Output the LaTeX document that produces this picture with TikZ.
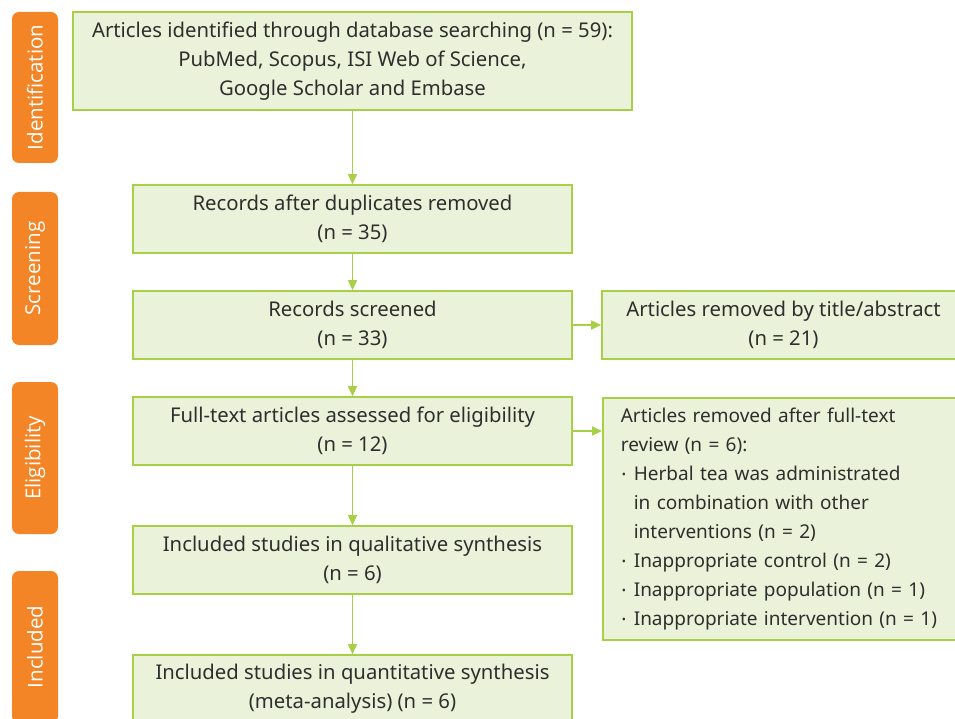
\documentclass[tikz,border=0pt]{standalone}
\usepackage{fontspec}
\setmainfont{Noto Sans}
\newfontfamily\barfont{Open Sans}
\usetikzlibrary{arrows.meta}
\definecolor{boxfill}{HTML}{EAF3D9}
\definecolor{boxline}{HTML}{A8D046}
\definecolor{barorange}{HTML}{F38526}
\definecolor{txt}{HTML}{2E2E2E}
\newcommand{\bul}{\makebox[13pt][l]{\hspace*{1pt}\raisebox{1.8pt}{\fontsize{11}{11}\selectfont\textbullet}}}
\begin{document}
\begin{tikzpicture}[x=1pt,y=-1pt,
  box/.style={draw=boxline, fill=boxfill, line width=1.6pt, text=txt, align=center,
    font=\fontsize{20.3}{29}\selectfont, inner sep=0pt},
  bar/.style={fill=barorange, rounded corners=7pt, minimum height=46pt, inner sep=0pt,
    text=white, font=\barfont\fontsize{20.5}{22}\selectfont, rotate=90},
  arr/.style={draw=boxline, line width=1.6pt, -{Triangle[width=9pt,length=10pt]}}]
\useasboundingbox (0,0) rectangle (955,719);
\clip (0,0) rectangle (955,719);
% phase bars
\node[bar, minimum width=151pt] (b1) at (35,87.5) {Identification};
\node[bar, minimum width=153pt] (b2) at (35,268.5) {Screening};
\node[bar, minimum width=152pt] (b3) at (35,458) {Eligibility};
\node[bar, minimum width=152pt] (b4) at (35,647) {Included};
% boxes
\node[box, minimum width=559pt, minimum height=98pt] (n1) at (352.5,61)
  {Articles identified through database searching (n = 59):\\PubMed, Scopus, ISI Web of Science,\\Google Scholar and Embase};
\node[box, minimum width=439pt, minimum height=68pt] (n2) at (352.5,219)
  {Records after duplicates removed\\(n = 35)};
\node[box, minimum width=439pt, minimum height=68pt] (n3) at (352.5,325)
  {Records screened\\(n = 33)};
\node[box, minimum width=439pt, minimum height=68pt] (n4) at (352.5,431)
  {Full-text articles assessed for eligibility\\(n = 12)};
\node[box, minimum width=439pt, minimum height=68pt] (n5) at (352.5,560)
  {Included studies in qualitative synthesis\\(n = 6)};
\node[box, minimum width=439pt, minimum height=68pt] (n6) at (352.5,689)
  {Included studies in quantitative synthesis\\(meta-analysis) (n = 6)};
\node[box, minimum width=363pt, minimum height=68pt] (r1) at (783.5,325)
  {Articles removed by title/abstract\\(n = 21)};
\node[box, align=left, text width=340pt, minimum height=242pt, inner xsep=18pt, anchor=north west,
  font=\fontsize{19}{29}\selectfont] (r2) at (602,397)
  {Articles removed after full-text\\review (n = 6):\\
   \bul Herbal tea was administrated\\
   \hspace*{13pt}in combination with other\\
   \hspace*{13pt}interventions (n = 2)\\
   \bul Inappropriate control (n = 2)\\
   \bul Inappropriate population (n = 1)\\
   \bul Inappropriate intervention (n = 1)};
% connectors
\draw[arr] (n1.south -| n2.north) -- (n2.north);
\draw[arr] (n2) -- (n3);
\draw[arr] (n3) -- (n4);
\draw[arr] (n4) -- (n5);
\draw[arr] (n5) -- (n6);
\draw[arr] (n3) -- (r1);
\draw[arr] (n4.east) -- (n4.east -| r2.west);
\end{tikzpicture}
\end{document}
